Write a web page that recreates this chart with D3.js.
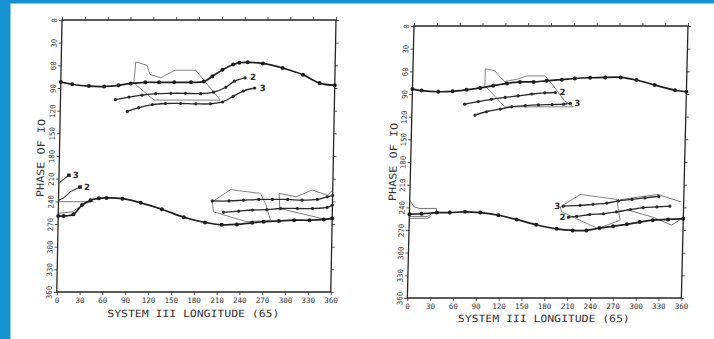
<!DOCTYPE html>
<html>
<head>
<meta charset="utf-8">
<script src="https://cdn.jsdelivr.net/npm/d3@7"></script>
<style>
  body { margin: 0; background: #fff; }
  svg { display: block; }
</style>
</head>
<body>
<svg id="chart" width="714" height="339"></svg>
<script>
// axis ticks and titles
const lonTicks = d3.range(0, 361, 30);
const phaseTicks = d3.range(0, 361, 30);
const xTitle = 'SYSTEM III LONGITUDE (65)';
const yTitle = 'PHASE OF IO';

// ---- left panel, [longitude, phase] ----
const leftMain1 = [[0,82],[15,85],[37,87.5],[57,88],[76,86.5],[92,84],[111,82.5],[129,82.5],[149,82.5],[171,82.5],[188,81.5],[199,74.5],[212,66],[226,59],[234,56.5],[245,56],[265,57.5],[291,63.5],[318,72.5],[340,83.5],[360,86.5]];
const leftUp2 = [[72,105.5],[90,102],[107,99.5],[125,97.5],[145,97],[164,97],[184,97.5],[201,95.5],[217,89],[228,81],[242,76.5]];
const leftUp3 = [[88,121],[103,116],[121,112],[138,110.5],[158,110.5],[178,111],[197,111],[213,108.5],[227,101],[240,94],[255,90]];
const leftOutlineUp = [[98,55.5],[113,60],[117,72],[131,76.5],[150,66.5],[177,66.5],[210,106],[123,106],[96,83.5]];

const leftMain2 = [[0,259.5],[7,259.5],[20,257],[31,245],[42,238.5],[53,236],[63,235.5],[84,236.5],[108,242],[136,250.5],[165,261],[193,268],[215,271],[235,270.5],[255,268.5],[270,267],[290,266],[310,265],[330,265],[349,264],[360,262.5]];
const leftLow3 = [[202,239.5],[224,239.5],[243,238.5],[263,237.5],[281,237.5],[301,237.5],[320,238.5],[340,237.5],[353,234],[360,232]];
const leftLow2 = [[217,254.5],[237,253],[255,251.5],[274,251],[292,249.5],[314,249.5],[334,249.5],[353,248],[360,245]];
const leftWrap3 = [[0,216],[6,211],[13,205.5]];
const leftWrap2 = [[0,238.5],[6,236],[15,227.5],[28,221]];
const leftEdgeA = [[0,240.5],[46,240.5]];
const leftEdgeB = [[0,256],[18,254],[33,244],[45,239.5]];
const leftOutlineLowA = [[202,240.5],[226,224.5],[265,229.5],[272,243],[279,265],[248,267],[204,254]];
const leftOutlineLowB = [[360,225],[353,232],[333,225],[312,234],[289.5,229.5],[291,249.5],[351.5,264],[360,262]];

// ---- right panel, [longitude, phase] ----
const rightMain1 = [[0,83.5],[12,85.5],[34,87],[53,86.5],[71,84.5],[89,82],[106,79],[124,76],[141,74],[159,74],[176,72.5],[196,71],[213,69.5],[233,68.5],[253,68],[273,68],[294,71.5],[318,78],[345,85],[360,87]];
const rightUp2 = [[69,103.5],[87,100],[104,97],[122,94.5],[139,92.5],[157,90],[174,88.5],[188,88]];
const rightUp3 = [[83,118],[98,113.5],[116,110],[131,107],[149,105.5],[166,104.5],[184,104],[199,103.5],[208,102.5]];
const rightOutlineUp = [[95,56.5],[108,59.5],[115,68],[121,73.5],[137,70.5],[150,66],[174,66],[185,79],[200,99],[212,107],[122,107],[95,79]];

const rightMain2 = [[0,249],[16,248.5],[36,247],[53,247],[73,246],[93,247],[117,250.5],[141,256],[167,263],[194,268.5],[215,270.5],[233,270.5],[250,267.5],[268,265],[286,262.5],[303,259.5],[320,257],[340,256],[360,255]];
const rightLow3 = [[202,238.5],[224,237.5],[241,236],[259,234.5],[274,231.5],[292,229.5],[309,227.5],[327,225.5]];
const rightLow2 = [[209,253],[220,252],[237,249.5],[255,248.5],[272,246],[290,243],[307,240.5],[325,239.5],[342,238.5]];
const rightOutlineLowA = [[198,239.5],[224,223],[272,229.5],[277,257],[248,268],[200,246]];
const rightEdge1 = [[357,233],[326,223],[300,226.5],[276,230]];
const rightEdge2 = [[285,243],[320,253],[345,263.5],[358,255]];
const rightStart1 = [[0,230.5],[6,239.5],[13.5,241.5],[35.5,241.5],[35.5,245.5]];
const rightStart2 = [[0,252],[24.5,252],[29,248.5],[33.5,247.5]];
const rightStart3 = [[0,254.5],[24.5,254.5],[29,250.5]];

const svg = d3.select('#chart');
svg.append('rect').attr('width', 714).attr('height', 339).attr('fill', '#fff');
// blue slide border
svg.append('rect').attr('x', 0).attr('y', 0).attr('width', 10.5).attr('height', 339).attr('fill', '#1691d0');
svg.append('rect').attr('x', 0).attr('y', 0).attr('width', 714).attr('height', 3.5).attr('fill', '#1691d0');

const mono = '"DejaVu Sans Mono", "Liberation Mono", monospace';

function drawPanel(p) {
  // the scan is slightly skewed, so each panel is skewed too
  const g = svg.append('g')
    .attr('transform', `translate(${p.x0},${p.y0}) skewX(${-p.skew})`);

  const x = d3.scaleLinear().domain([0, 360]).range([0, p.w]);
  const y = d3.scaleLinear().domain([0, 360]).range([0, p.h]);

  const bottom = g.append('g').attr('transform', `translate(0,${p.h})`)
    .call(d3.axisBottom(x).tickValues(lonTicks).tickSize(3).tickPadding(3));
  const top = g.append('g').call(d3.axisTop(x).tickValues(lonTicks).tickSize(3).tickFormat(''));
  const left = g.append('g').call(d3.axisLeft(y).tickValues(phaseTicks).tickSize(3));
  const right = g.append('g').attr('transform', `translate(${p.w},0)`)
    .call(d3.axisRight(y).tickValues(phaseTicks).tickSize(3).tickFormat(''));

  [bottom, top, left, right].forEach(a => {
    a.select('.domain').remove();
    a.selectAll('line').attr('stroke', '#444').attr('stroke-width', 0.9);
  });
  bottom.selectAll('text')
    .attr('font-family', mono).attr('font-size', 7.5).attr('fill', '#333');
  left.selectAll('text')
    .attr('font-family', mono).attr('font-size', 7.5).attr('fill', '#333')
    .attr('x', 0).attr('dy', 0).attr('text-anchor', 'middle')
    .attr('transform', 'translate(-5,0) rotate(-90)');

  // frame
  g.append('rect').attr('width', p.w).attr('height', p.h)
    .attr('fill', 'none').attr('stroke', '#262626').attr('stroke-width', 1.3);

  const smooth = d3.line().x(d => x(d[0])).y(d => y(d[1])).curve(d3.curveCatmullRom.alpha(0.5));
  const straight = d3.line().x(d => x(d[0])).y(d => y(d[1]));
  const closed = d3.line().x(d => x(d[0])).y(d => y(d[1])).curve(d3.curveLinearClosed);

  p.outlines.forEach(s => g.append('path').attr('d', closed(s))
    .attr('fill', 'none').attr('stroke', '#666').attr('stroke-width', 0.8));
  p.edges.forEach(s => g.append('path').attr('d', straight(s))
    .attr('fill', 'none').attr('stroke', '#555').attr('stroke-width', 0.8));

  p.mains.forEach(s => {
    g.append('path').attr('d', smooth(s)).attr('fill', 'none')
      .attr('stroke', '#1e1e1e').attr('stroke-width', 1.7);
    g.append('g').selectAll('circle').data(s).join('circle')
      .attr('cx', d => x(d[0])).attr('cy', d => y(d[1])).attr('r', 2).attr('fill', '#1e1e1e');
  });
  p.subs.forEach(s => {
    g.append('path').attr('d', smooth(s)).attr('fill', 'none')
      .attr('stroke', '#2a2a2a').attr('stroke-width', 1.3);
    g.append('g').selectAll('circle').data(s).join('circle')
      .attr('cx', d => x(d[0])).attr('cy', d => y(d[1])).attr('r', 1.6).attr('fill', '#2a2a2a');
  });
  p.wraps.forEach(s => {
    g.append('path').attr('d', straight(s)).attr('fill', 'none')
      .attr('stroke', '#2a2a2a').attr('stroke-width', 1);
    const e = s[s.length - 1];
    g.append('rect').attr('x', x(e[0]) - 1.8).attr('y', y(e[1]) - 1.8)
      .attr('width', 3.6).attr('height', 3.6).attr('fill', '#222');
  });

  // curve numbers
  p.labels.forEach(l => {
    const e = l.end === 'first' ? l.series[0] : l.series[l.series.length - 1];
    g.append('text').attr('x', x(e[0]) + l.dx).attr('y', y(e[1]) + l.dy)
      .attr('text-anchor', l.anchor || 'start')
      .attr('font-family', '"DejaVu Sans", sans-serif').attr('font-size', 8.5)
      .attr('font-weight', 'bold').attr('fill', '#2a2a2a').text(l.text);
  });

  // titles
  g.append('text').attr('x', p.w / 2).attr('y', p.h + p.xTitleGap)
    .attr('text-anchor', 'middle').attr('font-family', mono).attr('font-size', 10)
    .attr('textLength', 172).attr('lengthAdjust', 'spacingAndGlyphs')
    .attr('fill', '#333').text(xTitle);
  g.append('text')
    .attr('transform', `translate(${p.yTitleX},${p.yTitleY}) rotate(-90)`)
    .attr('text-anchor', 'middle').attr('font-family', mono).attr('font-size', 10)
    .attr('textLength', 78).attr('lengthAdjust', 'spacingAndGlyphs')
    .attr('fill', '#333').text(yTitle);
}

drawPanel({
  x0: 62, y0: 20, w: 274, h: 272, skew: 1.1,
  xTitleGap: 25, yTitleX: -15, yTitleY: 138,
  mains: [leftMain1, leftMain2],
  subs: [leftUp2, leftUp3, leftLow3, leftLow2],
  wraps: [leftWrap3, leftWrap2],
  outlines: [leftOutlineUp, leftOutlineLowA],
  edges: [leftOutlineLowB, leftEdgeA, leftEdgeB],
  labels: [
    { series: leftUp2, text: '2', dx: 5, dy: 2 },
    { series: leftUp3, text: '3', dx: 5, dy: 3 },
    { series: leftWrap3, text: '3', dx: 4, dy: 3 },
    { series: leftWrap2, text: '2', dx: 4, dy: 3 }
  ]
});

drawPanel({
  x0: 414, y0: 26, w: 274, h: 272, skew: 1.4,
  xTitleGap: 24, yTitleX: -14, yTitleY: 136,
  mains: [rightMain1, rightMain2],
  subs: [rightUp2, rightUp3, rightLow3, rightLow2],
  wraps: [],
  outlines: [rightOutlineUp, rightOutlineLowA],
  edges: [rightEdge1, rightEdge2, rightStart1, rightStart2, rightStart3],
  labels: [
    { series: rightUp2, text: '2', dx: 4, dy: 3 },
    { series: rightUp3, text: '3', dx: 4, dy: 3 },
    { series: rightLow3, text: '3', end: 'first', dx: -3, dy: 3, anchor: 'end' },
    { series: rightLow2, text: '2', end: 'first', dx: -3, dy: 3, anchor: 'end' }
  ]
});
</script>
</body>
</html>
